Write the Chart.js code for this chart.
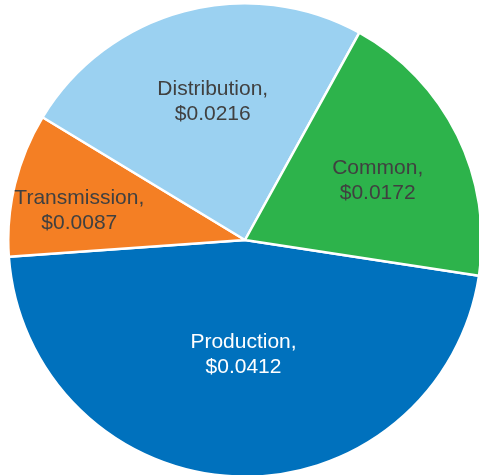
<!DOCTYPE html>
<html>
<head>
<meta charset="utf-8">
<script src="https://cdn.jsdelivr.net/npm/chart.js@4/dist/chart.umd.min.js"></script>
<style>
  html, body { margin: 0; padding: 0; background: #fff; overflow: hidden; width: 479px; height: 475px; }
  #wrap { position: absolute; left: 7px; top: 2px; width: 476px; height: 476px; }
</style>
</head>
<body>
<div id="wrap"><canvas id="mychart"></canvas></div>
<script>
// data
const categories = ['Production', 'Transmission', 'Distribution', 'Common'];
const values = [0.0412, 0.0087, 0.0216, 0.0172];
const colors = ['#0071BD', '#F47F24', '#9BD1F1', '#2DB34B'];
const textColors = ['#ffffff', '#404040', '#404040', '#404040'];
// label placement: fraction of radius along slice middle, plus small nudge in px
const labelRadius = [0.47, 0.72, 0.61, 0.62];
const labelNudge = [[3, 3], [0, 10], [5, 1], [1, 5]];

// draws "Name,\n$value" inside each slice
const sliceLabels = {
  id: 'sliceLabels',
  afterDatasetsDraw(chart) {
    const ctx = chart.ctx;
    const meta = chart.getDatasetMeta(0);
    ctx.save();
    ctx.font = '21px "Liberation Sans", Arial, sans-serif';
    ctx.textAlign = 'center';
    ctx.textBaseline = 'middle';
    meta.data.forEach((arc, i) => {
      const p = arc.getProps(['x', 'y', 'startAngle', 'endAngle', 'outerRadius'], true);
      const mid = (p.startAngle + p.endAngle) / 2;
      const r = p.outerRadius * labelRadius[i];
      const x = p.x + Math.cos(mid) * r + labelNudge[i][0];
      const y = p.y + Math.sin(mid) * r + labelNudge[i][1];
      ctx.fillStyle = textColors[i];
      ctx.fillText(categories[i] + ',', x, y - 12);
      ctx.fillText('$' + values[i].toFixed(4), x, y + 13);
    });
    ctx.restore();
  }
};

let myChart = document.getElementById('mychart').getContext('2d');
let pieChart = new Chart(myChart, {
  type: 'pie',
  data: {
    labels: categories,
    datasets: [{
      data: values,
      backgroundColor: colors,
      borderColor: '#ffffff',
      borderWidth: 2.5,
      hoverOffset: 0,
      offset: 0
    }]
  },
  options: {
    responsive: true,
    maintainAspectRatio: false,
    animation: false,
    rotation: 98.7,
    layout: { padding: 0 },
    plugins: {
      legend: { display: false },
      tooltip: { enabled: false }
    }
  },
  plugins: [sliceLabels]
});
</script>
</body>
</html>
